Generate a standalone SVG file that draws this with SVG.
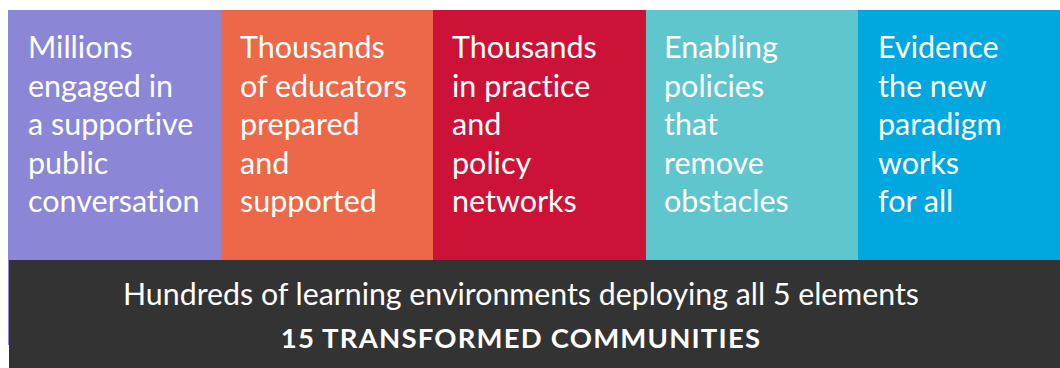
<svg xmlns="http://www.w3.org/2000/svg" width="1060" height="368" viewBox="0 0 1060 368">
<style>
.t{font-family:Lato,"Open Sans",sans-serif;font-size:30.5px;fill:#ffffff;font-variant-ligatures:none}
.b{font-family:Lato,"Open Sans",sans-serif;font-size:30.3px;fill:#ffffff;text-anchor:middle;font-variant-ligatures:none}
.bb{font-size:27.5px;font-weight:bold;letter-spacing:1.2px}
</style>
<rect width="1060" height="368" fill="#ffffff"/>
<g id="col1">
<rect x="8" y="10" width="213" height="335" fill="#8B86D5"/>
<text class="t"><tspan x="28" y="58">Millions</tspan><tspan x="28" y="96.5">engaged in</tspan><tspan x="28" y="135">a supportive</tspan><tspan x="28" y="173.5">public</tspan><tspan x="28" y="212">conversation</tspan></text>
</g>
<g id="col2">
<rect x="221" y="10" width="212" height="250" fill="#EC6848"/>
<text class="t"><tspan x="240" y="58">Thousands</tspan><tspan x="240" y="96.5">of educators</tspan><tspan x="240" y="135">prepared</tspan><tspan x="240" y="173.5">and</tspan><tspan x="240" y="212">supported</tspan></text>
</g>
<g id="col3">
<rect x="433" y="10" width="213" height="250" fill="#CC1236"/>
<text class="t"><tspan x="452" y="58">Thousands</tspan><tspan x="452" y="96.5">in practice</tspan><tspan x="452" y="135">and</tspan><tspan x="452" y="173.5">policy</tspan><tspan x="452" y="212">networks</tspan></text>
</g>
<g id="col4">
<rect x="646" y="10" width="212" height="250" fill="#5EC6CC"/>
<text class="t"><tspan x="664" y="58">Enabling</tspan><tspan x="664" y="96.5">policies</tspan><tspan x="664" y="135">that</tspan><tspan x="664" y="173.5">remove</tspan><tspan x="664" y="212">obstacles</tspan></text>
</g>
<g id="col5">
<rect x="858" y="10" width="202" height="250" fill="#00A8DF"/>
<text class="t"><tspan x="878" y="58">Evidence</tspan><tspan x="878" y="96.5">the new</tspan><tspan x="878" y="135">paradigm</tspan><tspan x="878" y="173.5">works</tspan><tspan x="878" y="212">for all</tspan></text>
</g>
<g id="base">
<rect x="9" y="260" width="1051" height="108" fill="#333333"/>
<text class="b" x="521" y="305">Hundreds of learning environments deploying all 5 elements</text>
<text class="b bb" x="521" y="348">15 TRANSFORMED COMMUNITIES</text>
</g>
</svg>
